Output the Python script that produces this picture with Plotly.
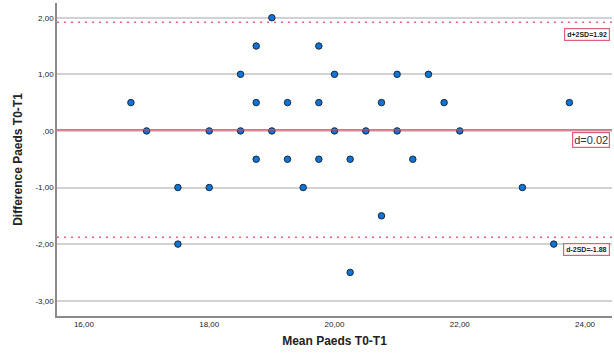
import plotly.graph_objects as go

mean_vals = [16.75, 17.0, 17.5, 17.5, 18.0, 18.0, 18.5, 18.5, 18.75, 18.75, 18.75,
             19.0, 19.0, 19.25, 19.25, 19.5, 19.75, 19.75, 19.75, 20.0, 20.0,
             20.25, 20.25, 20.5, 20.75, 20.75, 21.0, 21.0, 21.25, 21.5, 21.75,
             22.0, 23.0, 23.5, 23.75]
diff_vals = [0.5, 0.0, -1.0, -2.0, 0.0, -1.0, 1.0, 0.0, 1.5, 0.5, -0.5,
             2.0, 0.0, 0.5, -0.5, -1.0, 1.5, 0.5, -0.5, 1.0, 0.0,
             -0.5, -2.5, 0.0, 0.5, -1.5, 1.0, 0.0, -0.5, 1.0, 0.5,
             0.0, -1.0, -2.0, 0.5]

mean_diff = 0.02
upper_loa = 1.92
lower_loa = -1.88

x_ticks = [16, 18, 20, 22, 24]
x_ticktext = ["16,00", "18,00", "20,00", "22,00", "24,00"]
y_ticks = [2, 1, 0, -1, -2, -3]
y_ticktext = ["2,00", "1,00", ",00", "-1,00", "-2,00", "-3,00"]

fig = go.Figure()
fig.add_trace(go.Scatter(
    x=mean_vals, y=diff_vals, mode="markers",
    marker=dict(size=6.5, color="#0F74D8", line=dict(color="#1B2A3A", width=1)),
    showlegend=False, hoverinfo="x+y"))

red = "#D8415F"
pink = "#F0607E"
fig.add_shape(type="line", xref="paper", x0=0, x1=1, yref="y", y0=mean_diff, y1=mean_diff,
              line=dict(color=red, width=1.2), layer="above")
fig.add_shape(type="line", xref="paper", x0=0, x1=1, yref="y", y0=upper_loa, y1=upper_loa,
              line=dict(color=pink, width=1.5, dash="2px,5px"), layer="above")
fig.add_shape(type="line", xref="paper", x0=0, x1=1, yref="y", y0=lower_loa, y1=lower_loa,
              line=dict(color=pink, width=1.5, dash="2px,5px"), layer="above")

fig.add_annotation(xref="paper", x=0.997, xanchor="right", yref="y", y=upper_loa, yanchor="top",
                   yshift=-6, text="<b>d+2SD=1.92</b>", showarrow=False,
                   font=dict(family="Arial, Liberation Sans", size=7, color="#222"),
                   bordercolor="#E0607A", borderwidth=1.2, borderpad=2, bgcolor="white")
fig.add_annotation(xref="paper", x=0.997, xanchor="right", yref="y", y=mean_diff, yanchor="top",
                   yshift=-2, text="d=0.02", showarrow=False,
                   font=dict(family="Arial, Liberation Sans", size=11, color="#333"),
                   bordercolor="#E0607A", borderwidth=1.2, borderpad=1, bgcolor="white")
fig.add_annotation(xref="paper", x=0.997, xanchor="right", yref="y", y=lower_loa, yanchor="top",
                   yshift=-6, text="<b>d-2SD=-1.88</b>", showarrow=False,
                   font=dict(family="Arial, Liberation Sans", size=7, color="#222"),
                   bordercolor="#E0607A", borderwidth=1.2, borderpad=2, bgcolor="white")

fig.update_layout(
    width=614, height=356,
    margin=dict(l=57, r=2, t=3, b=40, autoexpand=False),
    paper_bgcolor="white", plot_bgcolor="white",
    font=dict(family="Arial, Liberation Sans", color="#222"),
    xaxis=dict(range=[15.57, 24.43], tickvals=x_ticks, ticktext=x_ticktext,
               showgrid=False, zeroline=False, showline=True, linecolor="#8A8A8A",
               linewidth=1.5, ticks="", tickfont=dict(size=8, color="#222"),
               automargin=False,
               title=dict(text="<b>Mean Paeds T0-T1</b>", font=dict(size=12, color="#222"),
                          standoff=8)),
    yaxis=dict(range=[-3.27, 2.26], tickvals=y_ticks, ticktext=y_ticktext,
               showgrid=True, gridcolor="#D2D2D2", gridwidth=1.5, zeroline=False,
               showline=True, linecolor="#8A8A8A", linewidth=1.5, ticks="",
               tickfont=dict(size=8, color="#222"), automargin=False,
               title=dict(text="<b>Difference Paeds T0-T1</b>", font=dict(size=12, color="#222"),
                          standoff=10)),
)

fig.write_html("out.html", config={"displayModeBar": False},
               post_script="document.body.style.margin='0';document.body.style.padding='0';")
